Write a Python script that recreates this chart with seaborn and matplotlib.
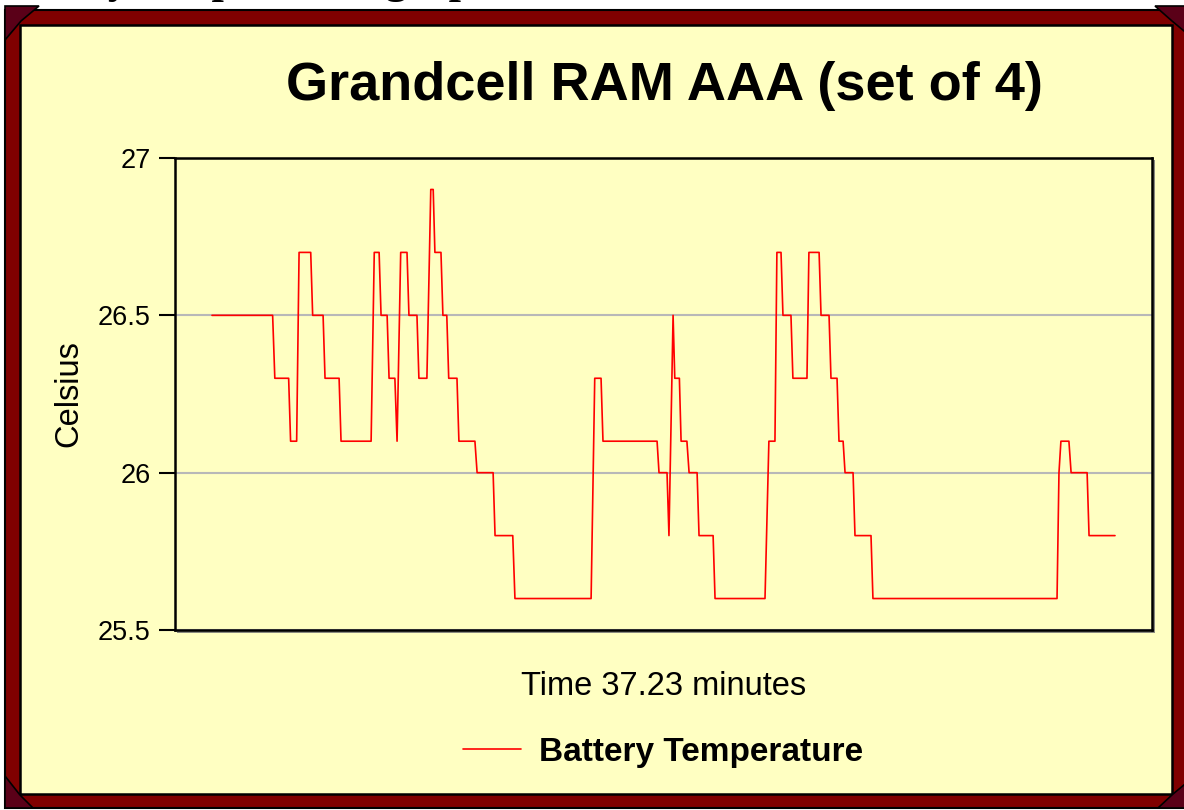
import numpy as np
import pandas as pd
import matplotlib.pyplot as plt
import matplotlib.patches as mpatches
from matplotlib import font_manager
import seaborn as sns

# data: vertices of the temperature trace
minutes = [0.00, 2.50, 2.59, 3.16, 3.24, 3.49, 3.59, 4.07, 4.15, 4.58,
           4.66, 5.24, 5.32, 6.56, 6.69, 6.89, 6.97, 7.22, 7.30, 7.54,
           7.63, 7.78, 8.04, 8.12, 8.45, 8.53, 8.86, 9.02, 9.12, 9.19,
           9.44, 9.52, 9.68, 9.76, 10.10, 10.18, 10.84, 10.93, 11.59, 11.67,
           12.40, 12.49, 15.63, 15.78, 16.04, 16.12, 18.35, 18.43, 18.76, 18.84,
           19.01, 19.08, 19.27, 19.34, 19.58, 19.67, 20.00, 20.08, 20.66, 20.74,
           22.80, 22.96, 23.21, 23.29, 23.46, 23.54, 23.87, 23.95, 24.53, 24.61,
           25.03, 25.11, 25.44, 25.52, 25.77, 25.85, 26.02, 26.10, 26.43, 26.51,
           27.17, 27.25, 34.84, 34.92, 35.00, 35.33, 35.42, 36.08, 36.16, 37.23]
celsius = [26.5, 26.5, 26.3, 26.3, 26.1, 26.1, 26.7, 26.7, 26.5, 26.5,
           26.3, 26.3, 26.1, 26.1, 26.7, 26.7, 26.5, 26.5, 26.3, 26.3,
           26.1, 26.7, 26.7, 26.5, 26.5, 26.3, 26.3, 26.9, 26.9, 26.7,
           26.7, 26.5, 26.5, 26.3, 26.3, 26.1, 26.1, 26.0, 26.0, 25.8,
           25.8, 25.6, 25.6, 26.3, 26.3, 26.1, 26.1, 26.0, 26.0, 25.8,
           26.5, 26.3, 26.3, 26.1, 26.1, 26.0, 26.0, 25.8, 25.8, 25.6,
           25.6, 26.1, 26.1, 26.7, 26.7, 26.5, 26.5, 26.3, 26.3, 26.7,
           26.7, 26.5, 26.5, 26.3, 26.3, 26.1, 26.1, 26.0, 26.0, 25.8,
           25.8, 25.6, 25.6, 26.0, 26.1, 26.1, 26.0, 26.0, 25.8, 25.8]
yticks = [25.5, 26, 26.5, 27]
ytick_labels = ['25.5', '26', '26.5', '27']
series_name = 'Battery Temperature'

df = pd.DataFrame({'minutes': minutes, 'celsius': celsius})

sns.set_style('white')
plt.rcParams['font.family'] = ['Liberation Sans', 'DejaVu Sans']
plt.rcParams['text.color'] = 'black'
plt.rcParams['axes.labelcolor'] = 'black'

# narrow face for tick labels if it is there
names = {f.name for f in font_manager.fontManager.ttflist}
if 'Liberation Sans Narrow' in names:
    tick_font, tick_size = 'Liberation Sans Narrow', 23.5
else:
    tick_font, tick_size = 'Liberation Sans', 19.5

W, H = 1184, 810
YELLOW = '#ffffc2'
MAROON = '#800000'
DARK = '#5a0018'


def px(x, y):
    return (x / W, 1 - y / H)


fig = plt.figure(figsize=(W / 100, H / 100), dpi=100, facecolor='white')

# frame
def rect(x0, y0, x1, y1, **kw):
    r = mpatches.Rectangle(px(x0, y1), (x1 - x0) / W, (y1 - y0) / H,
                           transform=fig.transFigure, **kw)
    fig.add_artist(r)

def poly(pts, **kw):
    p = mpatches.Polygon([px(x, y) for x, y in pts], closed=True,
                         transform=fig.transFigure, **kw)
    fig.add_artist(p)

rect(5, 10, 1195, 808, facecolor=MAROON, edgecolor='black', lw=1.5, zorder=-5)
rect(20, 25, 1172, 794, facecolor=YELLOW, edgecolor='black', lw=1.8, zorder=-4)
poly([(5, 6), (39, 6), (21, 21), (5, 40)], facecolor=DARK, edgecolor='black', lw=1.2, zorder=-3)
poly([(1155, 6), (1190, 6), (1190, 36), (1172, 21)], facecolor=DARK, edgecolor='black', lw=1.2, zorder=-3)
poly([(5, 776), (20, 795), (33, 808), (5, 808)], facecolor=DARK, edgecolor='black', lw=1.2, zorder=-3)
poly([(1190, 780), (1190, 808), (1158, 808), (1173, 794)], facecolor=DARK, edgecolor='black', lw=1.2, zorder=-3)
# shadow behind the plot area
rect(177, 160, 1155, 633, facecolor='#8a8a80', edgecolor='none', zorder=-2)

# cut-off page heading above the frame (only the descenders show)
fig.text(-12 / W, 1 + 7 / H, 'Battery temperature graph', family='Liberation Serif',
         weight='bold', fontsize=31.7, ha='left', va='baseline', zorder=-6)

ax = fig.add_axes([175 / W, 1 - 630 / H, 977 / W, 472 / H])
ax.set_facecolor(YELLOW)

sns.lineplot(data=df, x='minutes', y='celsius', color='#ff0000', lw=1.2,
             sort=False, estimator=None, label=series_name, ax=ax)

pad = 37 / 903 * 37.23
ax.set_xlim(-pad, 37.23 + pad)
ax.set_ylim(25.5, 27)
ax.set_xticks([])
ax.set_yticks(yticks)
ax.set_yticklabels(ytick_labels, family=tick_font)
ax.tick_params(axis='y', direction='out', length=11.5, width=1.5, pad=6,
               labelsize=tick_size, colors='black', left=True)
ax.yaxis.grid(True, color='#b8b8b8', lw=1.5)
ax.xaxis.grid(False)
for s in ax.spines.values():
    s.set_color('black')
    s.set_linewidth(1.8)

ax.set_ylabel('Celsius', fontsize=23.5, labelpad=10)
ax.set_xlabel('Time 37.23 minutes', fontsize=23.5)
ax.xaxis.set_label_coords(0.5, -0.087)

fig.text(664 / W, 1 - 100 / H, 'Grandcell RAM AAA (set of 4)', fontsize=39,
         weight='bold', ha='center', va='baseline')

handles, labels = ax.get_legend_handles_labels()
ax.get_legend().remove()
fig.legend(handles, labels, loc='center', bbox_to_anchor=px(663, 752),
           frameon=False, handlelength=1.73, handletextpad=0.55,
           prop={'weight': 'bold', 'size': 24})

plt.savefig('out.png', dpi=100, facecolor='white')
